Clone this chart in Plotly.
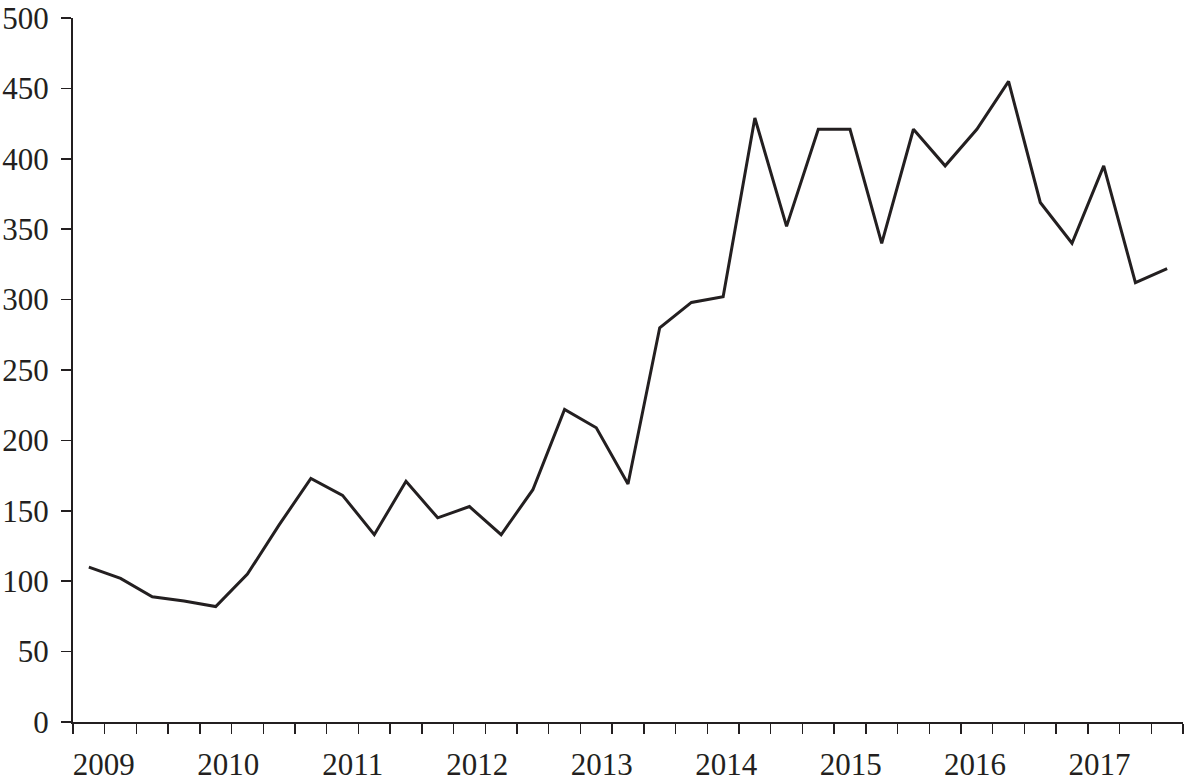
import plotly.graph_objects as go

# Quarterly values (35 periods)
values = [110, 102, 89, 86, 82, 105, 140, 173, 161, 133, 171, 145, 153, 133, 165,
          222, 209, 169, 280, 298, 302, 429, 352, 421, 421, 340, 421, 395, 421, 455,
          369, 340, 395, 312, 322]
year_labels = ["2009", "2010", "2011", "2012", "2013", "2014", "2015", "2016", "2017"]
y_ticks = [0, 50, 100, 150, 200, 250, 300, 350, 400, 450, 500]

n = len(values)
x_idx = list(range(n))
# year label positions on the category index scale
label_pos = [0.47 + 3.925 * k for k in range(len(year_labels))]
boundaries = [i - 0.5 for i in range(n + 1)]

ink = "#231f20"
font = dict(family="Liberation Serif, Times New Roman, serif", size=31, color=ink)

fig = go.Figure()
fig.add_trace(go.Scatter(x=x_idx, y=values, mode="lines",
                         line=dict(color=ink, width=3), hoverinfo="skip"))

fig.update_layout(
    width=1184, height=782,
    margin=dict(l=73, r=1, t=18, b=60),
    paper_bgcolor="white", plot_bgcolor="white",
    showlegend=False,
    font=font,
)
fig.update_xaxes(
    range=[-0.5, n - 0.5],
    tickmode="array", tickvals=label_pos, ticktext=year_labels,
    ticks="", ticklen=0,
    showline=True, linecolor=ink, linewidth=2,
    showgrid=False, zeroline=False, automargin=False,
    tickfont=font, ticklabelstandoff=14,
    minor=dict(tickmode="array", tickvals=boundaries, ticks="outside",
               ticklen=10, tickwidth=1.5, tickcolor=ink, showgrid=False),
)
fig.update_yaxes(
    range=[0, 500],
    tickmode="array", tickvals=y_ticks,
    ticks="outside", ticklen=10, tickwidth=1.5, tickcolor=ink,
    showline=True, linecolor=ink, linewidth=2,
    showgrid=False, zeroline=False, automargin=False,
    tickfont=font, ticklabelstandoff=6,
)

fig.write_html(
    "out.html",
    config={"displayModeBar": False, "staticPlot": True},
    post_script="document.body.style.margin='0';document.body.style.overflow='hidden';",
)
